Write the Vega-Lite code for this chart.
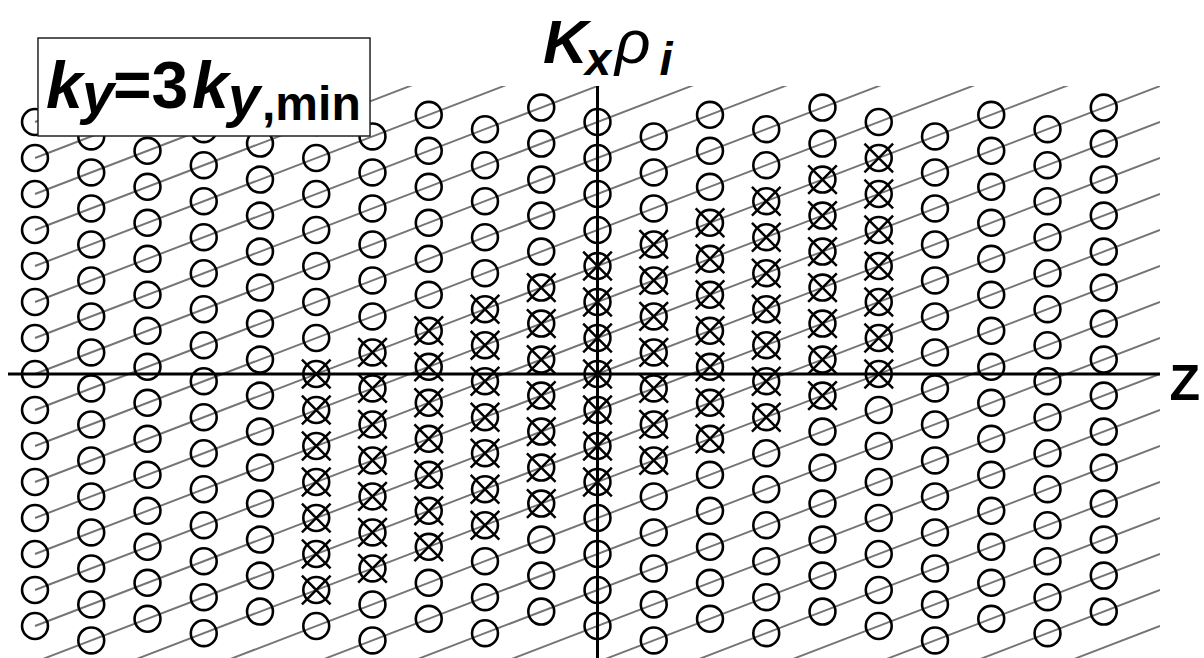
{
 "$schema": "https://vega.github.io/schema/vega-lite/v6.json",
 "width": 1152,
 "height": 572,
 "autosize": {"type": "none"},
 "padding": {"left": 8, "top": 86, "right": 44, "bottom": 0},
 "background": "white",
 "config": {"view": {"stroke": null}},
 "datasets": {
  "lines": [
   {"n":-19,"k":0,"y":-19},{"n":-19,"k":20,"y":-7},
   {"n":-18,"k":0,"y":-18},{"n":-18,"k":20,"y":-6},
   {"n":-17,"k":0,"y":-17},{"n":-17,"k":20,"y":-5},
   {"n":-16,"k":0,"y":-16},{"n":-16,"k":20,"y":-4},
   {"n":-15,"k":0,"y":-15},{"n":-15,"k":20,"y":-3},
   {"n":-14,"k":0,"y":-14},{"n":-14,"k":20,"y":-2},
   {"n":-13,"k":0,"y":-13},{"n":-13,"k":20,"y":-1},
   {"n":-12,"k":0,"y":-12},{"n":-12,"k":20,"y":0},
   {"n":-11,"k":0,"y":-11},{"n":-11,"k":20,"y":1},
   {"n":-10,"k":0,"y":-10},{"n":-10,"k":20,"y":2},
   {"n":-9,"k":0,"y":-9},{"n":-9,"k":20,"y":3},
   {"n":-8,"k":0,"y":-8},{"n":-8,"k":20,"y":4},
   {"n":-7,"k":0,"y":-7},{"n":-7,"k":20,"y":5},
   {"n":-6,"k":0,"y":-6},{"n":-6,"k":20,"y":6},
   {"n":-5,"k":0,"y":-5},{"n":-5,"k":20,"y":7},
   {"n":-4,"k":0,"y":-4},{"n":-4,"k":20,"y":8},
   {"n":-3,"k":0,"y":-3},{"n":-3,"k":20,"y":9},
   {"n":-2,"k":0,"y":-2},{"n":-2,"k":20,"y":10},
   {"n":-1,"k":0,"y":-1},{"n":-1,"k":20,"y":11},
   {"n":0,"k":0,"y":0},{"n":0,"k":20,"y":12},
   {"n":1,"k":0,"y":1},{"n":1,"k":20,"y":13},
   {"n":2,"k":0,"y":2},{"n":2,"k":20,"y":14},
   {"n":3,"k":0,"y":3},{"n":3,"k":20,"y":15},
   {"n":4,"k":0,"y":4},{"n":4,"k":20,"y":16},
   {"n":5,"k":0,"y":5},{"n":5,"k":20,"y":17},
   {"n":6,"k":0,"y":6},{"n":6,"k":20,"y":18},
   {"n":7,"k":0,"y":7},{"n":7,"k":20,"y":19}
  ],
  "circles": [
   {"k":0,"y":-7},{"k":0,"y":-6},{"k":0,"y":-5},{"k":0,"y":-4},{"k":0,"y":-3},{"k":0,"y":-2},{"k":0,"y":-1},{"k":0,"y":0},{"k":0,"y":1},{"k":0,"y":2},{"k":0,"y":3},{"k":0,"y":4},{"k":0,"y":5},{"k":0,"y":6},{"k":0,"y":7},
   {"k":1,"y":-7.4},{"k":1,"y":-6.4},{"k":1,"y":-5.4},{"k":1,"y":-4.4},{"k":1,"y":-3.4},{"k":1,"y":-2.4},{"k":1,"y":-1.4},{"k":1,"y":-0.4},{"k":1,"y":0.6},{"k":1,"y":1.6},{"k":1,"y":2.6},{"k":1,"y":3.6},{"k":1,"y":4.6},{"k":1,"y":5.6},{"k":1,"y":6.6},
   {"k":2,"y":-6.8},{"k":2,"y":-5.8},{"k":2,"y":-4.8},{"k":2,"y":-3.8},{"k":2,"y":-2.8},{"k":2,"y":-1.8},{"k":2,"y":-0.8},{"k":2,"y":0.2},{"k":2,"y":1.2},{"k":2,"y":2.2},{"k":2,"y":3.2},{"k":2,"y":4.2},{"k":2,"y":5.2},{"k":2,"y":6.2},{"k":2,"y":7.2},
   {"k":3,"y":-7.2},{"k":3,"y":-6.2},{"k":3,"y":-5.2},{"k":3,"y":-4.2},{"k":3,"y":-3.2},{"k":3,"y":-2.2},{"k":3,"y":-1.2},{"k":3,"y":-0.2},{"k":3,"y":0.8},{"k":3,"y":1.8},{"k":3,"y":2.8},{"k":3,"y":3.8},{"k":3,"y":4.8},{"k":3,"y":5.8},{"k":3,"y":6.8},
   {"k":4,"y":-6.6},{"k":4,"y":-5.6},{"k":4,"y":-4.6},{"k":4,"y":-3.6},{"k":4,"y":-2.6},{"k":4,"y":-1.6},{"k":4,"y":-0.6},{"k":4,"y":0.4},{"k":4,"y":1.4},{"k":4,"y":2.4},{"k":4,"y":3.4},{"k":4,"y":4.4},{"k":4,"y":5.4},{"k":4,"y":6.4},{"k":4,"y":7.4},
   {"k":5,"y":-7},{"k":5,"y":-6,"t":"x"},{"k":5,"y":-5,"t":"x"},{"k":5,"y":-4,"t":"x"},{"k":5,"y":-3,"t":"x"},{"k":5,"y":-2,"t":"x"},{"k":5,"y":-1,"t":"x"},{"k":5,"y":0,"t":"x"},{"k":5,"y":1},{"k":5,"y":2},{"k":5,"y":3},{"k":5,"y":4},{"k":5,"y":5},{"k":5,"y":6},{"k":5,"y":7},
   {"k":6,"y":-7.4},{"k":6,"y":-6.4},{"k":6,"y":-5.4,"t":"x"},{"k":6,"y":-4.4,"t":"x"},{"k":6,"y":-3.4,"t":"x"},{"k":6,"y":-2.4,"t":"x"},{"k":6,"y":-1.4,"t":"x"},{"k":6,"y":-0.4,"t":"x"},{"k":6,"y":0.6,"t":"x"},{"k":6,"y":1.6},{"k":6,"y":2.6},{"k":6,"y":3.6},{"k":6,"y":4.6},{"k":6,"y":5.6},{"k":6,"y":6.6},
   {"k":7,"y":-6.8},{"k":7,"y":-5.8},{"k":7,"y":-4.8,"t":"x"},{"k":7,"y":-3.8,"t":"x"},{"k":7,"y":-2.8,"t":"x"},{"k":7,"y":-1.8,"t":"x"},{"k":7,"y":-0.8,"t":"x"},{"k":7,"y":0.2,"t":"x"},{"k":7,"y":1.2,"t":"x"},{"k":7,"y":2.2},{"k":7,"y":3.2},{"k":7,"y":4.2},{"k":7,"y":5.2},{"k":7,"y":6.2},{"k":7,"y":7.2},
   {"k":8,"y":-7.2},{"k":8,"y":-6.2},{"k":8,"y":-5.2},{"k":8,"y":-4.2,"t":"x"},{"k":8,"y":-3.2,"t":"x"},{"k":8,"y":-2.2,"t":"x"},{"k":8,"y":-1.2,"t":"x"},{"k":8,"y":-0.2,"t":"x"},{"k":8,"y":0.8,"t":"x"},{"k":8,"y":1.8,"t":"x"},{"k":8,"y":2.8},{"k":8,"y":3.8},{"k":8,"y":4.8},{"k":8,"y":5.8},{"k":8,"y":6.8},
   {"k":9,"y":-6.6},{"k":9,"y":-5.6},{"k":9,"y":-4.6},{"k":9,"y":-3.6,"t":"x"},{"k":9,"y":-2.6,"t":"x"},{"k":9,"y":-1.6,"t":"x"},{"k":9,"y":-0.6,"t":"x"},{"k":9,"y":0.4,"t":"x"},{"k":9,"y":1.4,"t":"x"},{"k":9,"y":2.4,"t":"x"},{"k":9,"y":3.4},{"k":9,"y":4.4},{"k":9,"y":5.4},{"k":9,"y":6.4},{"k":9,"y":7.4},
   {"k":10,"y":-7},{"k":10,"y":-6},{"k":10,"y":-5},{"k":10,"y":-4},{"k":10,"y":-3,"t":"x"},{"k":10,"y":-2,"t":"x"},{"k":10,"y":-1,"t":"x"},{"k":10,"y":0,"t":"x"},{"k":10,"y":1,"t":"x"},{"k":10,"y":2,"t":"x"},{"k":10,"y":3,"t":"x"},{"k":10,"y":4},{"k":10,"y":5},{"k":10,"y":6},{"k":10,"y":7},
   {"k":11,"y":-7.4},{"k":11,"y":-6.4},{"k":11,"y":-5.4},{"k":11,"y":-4.4},{"k":11,"y":-3.4},{"k":11,"y":-2.4,"t":"x"},{"k":11,"y":-1.4,"t":"x"},{"k":11,"y":-0.4,"t":"x"},{"k":11,"y":0.6,"t":"x"},{"k":11,"y":1.6,"t":"x"},{"k":11,"y":2.6,"t":"x"},{"k":11,"y":3.6,"t":"x"},{"k":11,"y":4.6},{"k":11,"y":5.6},{"k":11,"y":6.6},
   {"k":12,"y":-6.8},{"k":12,"y":-5.8},{"k":12,"y":-4.8},{"k":12,"y":-3.8},{"k":12,"y":-2.8},{"k":12,"y":-1.8,"t":"x"},{"k":12,"y":-0.8,"t":"x"},{"k":12,"y":0.2,"t":"x"},{"k":12,"y":1.2,"t":"x"},{"k":12,"y":2.2,"t":"x"},{"k":12,"y":3.2,"t":"x"},{"k":12,"y":4.2,"t":"x"},{"k":12,"y":5.2},{"k":12,"y":6.2},{"k":12,"y":7.2},
   {"k":13,"y":-7.2},{"k":13,"y":-6.2},{"k":13,"y":-5.2},{"k":13,"y":-4.2},{"k":13,"y":-3.2},{"k":13,"y":-2.2},{"k":13,"y":-1.2,"t":"x"},{"k":13,"y":-0.2,"t":"x"},{"k":13,"y":0.8,"t":"x"},{"k":13,"y":1.8,"t":"x"},{"k":13,"y":2.8,"t":"x"},{"k":13,"y":3.8,"t":"x"},{"k":13,"y":4.8,"t":"x"},{"k":13,"y":5.8},{"k":13,"y":6.8},
   {"k":14,"y":-6.6},{"k":14,"y":-5.6},{"k":14,"y":-4.6},{"k":14,"y":-3.6},{"k":14,"y":-2.6},{"k":14,"y":-1.6},{"k":14,"y":-0.6,"t":"x"},{"k":14,"y":0.4,"t":"x"},{"k":14,"y":1.4,"t":"x"},{"k":14,"y":2.4,"t":"x"},{"k":14,"y":3.4,"t":"x"},{"k":14,"y":4.4,"t":"x"},{"k":14,"y":5.4,"t":"x"},{"k":14,"y":6.4},{"k":14,"y":7.4},
   {"k":15,"y":-7},{"k":15,"y":-6},{"k":15,"y":-5},{"k":15,"y":-4},{"k":15,"y":-3},{"k":15,"y":-2},{"k":15,"y":-1},{"k":15,"y":0,"t":"x"},{"k":15,"y":1,"t":"x"},{"k":15,"y":2,"t":"x"},{"k":15,"y":3,"t":"x"},{"k":15,"y":4,"t":"x"},{"k":15,"y":5,"t":"x"},{"k":15,"y":6,"t":"x"},{"k":15,"y":7},
   {"k":16,"y":-7.4},{"k":16,"y":-6.4},{"k":16,"y":-5.4},{"k":16,"y":-4.4},{"k":16,"y":-3.4},{"k":16,"y":-2.4},{"k":16,"y":-1.4},{"k":16,"y":-0.4},{"k":16,"y":0.6},{"k":16,"y":1.6},{"k":16,"y":2.6},{"k":16,"y":3.6},{"k":16,"y":4.6},{"k":16,"y":5.6},{"k":16,"y":6.6},
   {"k":17,"y":-6.8},{"k":17,"y":-5.8},{"k":17,"y":-4.8},{"k":17,"y":-3.8},{"k":17,"y":-2.8},{"k":17,"y":-1.8},{"k":17,"y":-0.8},{"k":17,"y":0.2},{"k":17,"y":1.2},{"k":17,"y":2.2},{"k":17,"y":3.2},{"k":17,"y":4.2},{"k":17,"y":5.2},{"k":17,"y":6.2},{"k":17,"y":7.2},
   {"k":18,"y":-7.2},{"k":18,"y":-6.2},{"k":18,"y":-5.2},{"k":18,"y":-4.2},{"k":18,"y":-3.2},{"k":18,"y":-2.2},{"k":18,"y":-1.2},{"k":18,"y":-0.2},{"k":18,"y":0.8},{"k":18,"y":1.8},{"k":18,"y":2.8},{"k":18,"y":3.8},{"k":18,"y":4.8},{"k":18,"y":5.8},{"k":18,"y":6.8},
   {"k":19,"y":-6.6},{"k":19,"y":-5.6},{"k":19,"y":-4.6},{"k":19,"y":-3.6},{"k":19,"y":-2.6},{"k":19,"y":-1.6},{"k":19,"y":-0.6},{"k":19,"y":0.4},{"k":19,"y":1.4},{"k":19,"y":2.4},{"k":19,"y":3.4},{"k":19,"y":4.4},{"k":19,"y":5.4},{"k":19,"y":6.4},{"k":19,"y":7.4}
  ]
 },
 "layer": [
  {
   "data": {"name": "lines"},
   "mark": {"type": "line", "color": "#747474", "strokeWidth": 1.9, "clip": true},
   "encoding": {
    "x": {"field": "k", "type": "quantitative", "scale": {"domain": [-0.48, 20], "nice": false, "zero": false},
          "axis": {"values": [0, 5, 10, 15, 20], "grid": true, "gridColor": "#d4d4d4", "gridWidth": 1.2, "labels": false, "ticks": false, "domain": false, "title": null}},
    "y": {"field": "y", "type": "quantitative", "scale": {"domain": [-7.889, 8], "nice": false, "zero": false},
          "axis": {"values": [-7,-6,-5,-4,-3,-2,-1,0,1,2,3,4,5,6,7], "grid": true, "gridColor": "#d4d4d4", "gridWidth": 1.2, "labels": false, "ticks": false, "domain": false, "title": null}},
    "detail": {"field": "n", "type": "nominal"}
   }
  },
  {
   "data": {"name": "circles"},
   "mark": {"type": "point", "shape": "circle", "filled": false, "size": 670, "stroke": "black", "strokeWidth": 2.6, "opacity": 1},
   "encoding": {
    "x": {"field": "k", "type": "quantitative", "axis": null},
    "y": {"field": "y", "type": "quantitative", "axis": null}
   }
  },
  {
   "data": {"name": "circles"},
   "transform": [{"filter": "datum.t === 'x'"}],
   "mark": {"type": "point", "shape": "M-1,-1L1,1M-1,1L1,-1", "filled": false, "size": 820, "stroke": "black", "strokeWidth": 2.5, "opacity": 1},
   "encoding": {
    "x": {"field": "k", "type": "quantitative", "axis": null},
    "y": {"field": "y", "type": "quantitative", "axis": null}
   }
  },
  {
   "data": {"values": [{"y": 0}]},
   "mark": {"type": "rule", "color": "black", "strokeWidth": 3},
   "encoding": {"y": {"field": "y", "type": "quantitative", "axis": null}}
  },
  {
   "data": {"values": [{"k": 10}]},
   "mark": {"type": "rule", "color": "black", "strokeWidth": 3},
   "encoding": {"x": {"field": "k", "type": "quantitative", "axis": null}}
  },
  {
   "data": {"values": [{"k": 0.053, "k2": 5.956, "y": 9.333, "y2": 6.611}]},
   "mark": {"type": "rect", "fill": "white", "stroke": "#222222", "strokeWidth": 1.5, "clip": false},
   "encoding": {
    "x": {"field": "k", "type": "quantitative", "axis": null},
    "x2": {"field": "k2"},
    "y": {"field": "y", "type": "quantitative", "axis": null},
    "y2": {"field": "y2"}
   }
  },
  {
   "data": {"values": [{"label": "k", "k": 0.196, "y": 7.389}, {"label": "k", "k": 2.791, "y": 7.389}]},
   "mark": {"type": "text", "align": "left", "baseline": "alphabetic", "font": "Liberation Sans", "fontWeight": "bold", "fontStyle": "italic", "fontSize": 66, "color": "black"},
   "encoding": {
    "x": {"field": "k", "type": "quantitative", "axis": null},
    "y": {"field": "y", "type": "quantitative", "axis": null},
    "text": {"field": "label"}
   }
  },
  {
   "data": {"values": [{"label": "K", "k": 9.031, "y": 8.639}]},
   "mark": {"type": "text", "align": "left", "baseline": "alphabetic", "font": "Liberation Sans", "fontWeight": "bold", "fontStyle": "italic", "fontSize": 62, "color": "black"},
   "encoding": {
    "x": {"field": "k", "type": "quantitative", "axis": null},
    "y": {"field": "y", "type": "quantitative", "axis": null},
    "text": {"field": "label"}
   }
  },
  {
   "data": {"values": [{"label": "y", "k": 0.836, "y": 7.25}, {"label": "y", "k": 3.431, "y": 7.167}]},
   "mark": {"type": "text", "align": "left", "baseline": "alphabetic", "font": "Liberation Sans", "fontWeight": "bold", "fontStyle": "italic", "fontSize": 58, "color": "black"},
   "encoding": {
    "x": {"field": "k", "type": "quantitative", "axis": null},
    "y": {"field": "y", "type": "quantitative", "axis": null},
    "text": {"field": "label"}
   }
  },
  {
   "data": {"values": [{"label": "x", "k": 9.778, "y": 8.306}, {"label": "i", "k": 11.1, "y": 8.306}]},
   "mark": {"type": "text", "align": "left", "baseline": "alphabetic", "font": "Liberation Sans", "fontWeight": "bold", "fontStyle": "italic", "fontSize": 47, "color": "black"},
   "encoding": {
    "x": {"field": "k", "type": "quantitative", "axis": null},
    "y": {"field": "y", "type": "quantitative", "axis": null},
    "text": {"field": "label"}
   }
  },
  {
   "data": {"values": [{"label": "=3", "k": 1.387, "y": 7.389}]},
   "mark": {"type": "text", "align": "left", "baseline": "alphabetic", "font": "Liberation Sans", "fontWeight": "bold", "fontSize": 66, "color": "black"},
   "encoding": {
    "x": {"field": "k", "type": "quantitative", "axis": null},
    "y": {"field": "y", "type": "quantitative", "axis": null},
    "text": {"field": "label"}
   }
  },
  {
   "data": {"values": [{"label": ",min", "k": 4.036, "y": 7.056}]},
   "mark": {"type": "text", "align": "left", "baseline": "alphabetic", "font": "Liberation Sans", "fontWeight": "bold", "fontSize": 48, "color": "black"},
   "encoding": {
    "x": {"field": "k", "type": "quantitative", "axis": null},
    "y": {"field": "y", "type": "quantitative", "axis": null},
    "text": {"field": "label"}
   }
  },
  {
   "data": {"values": [{"label": "ρ", "k": 10.311, "y": 8.639}]},
   "mark": {"type": "text", "align": "left", "baseline": "alphabetic", "font": "Liberation Sans", "fontStyle": "italic", "fontSize": 62, "color": "black"},
   "encoding": {
    "x": {"field": "k", "type": "quantitative", "axis": null},
    "y": {"field": "y", "type": "quantitative", "axis": null},
    "text": {"field": "label"}
   }
  },
  {
   "data": {"values": [{"label": "Z", "k": 20.17, "y": -0.722}]},
   "mark": {"type": "text", "align": "left", "baseline": "alphabetic", "font": "Liberation Sans", "fontWeight": "bold", "fontSize": 50, "color": "black"},
   "encoding": {
    "x": {"field": "k", "type": "quantitative", "axis": null},
    "y": {"field": "y", "type": "quantitative", "axis": null},
    "text": {"field": "label"}
   }
  }
 ]
}
